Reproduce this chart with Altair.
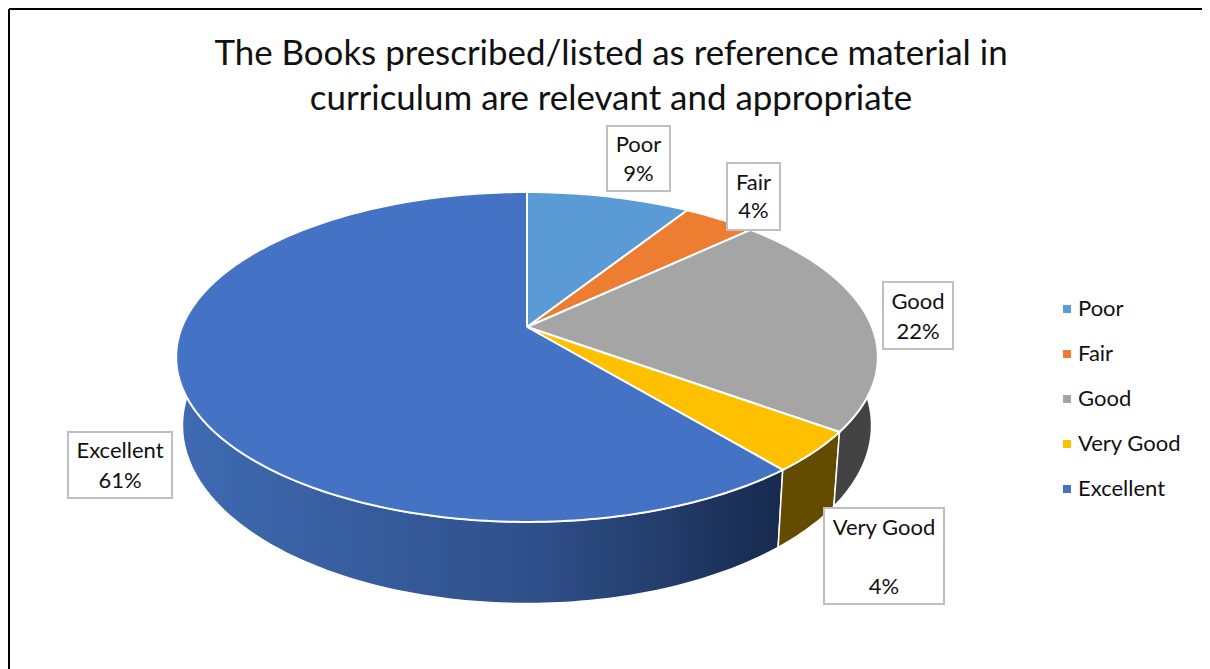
import numpy as np
import pandas as pd
import altair as alt

# ---- chart values ----
categories = ["Poor", "Fair", "Good", "Very Good", "Excellent"]
shares = [9, 4, 22, 4, 61]
title_lines = ["The Books prescribed/listed as reference material in",
               "curriculum are relevant and appropriate"]
colors = ["#5B9BD5", "#ED7D31", "#A5A5A5", "#FFC000", "#4472C4"]

# ---- layout of the callout boxes: x0, x1, y0, y1, x-centre, name line, value line ----
box_x0 = [607, 727, 883, 824, 68]
box_x1 = [670, 780, 953, 944, 172]
box_y0 = [126, 163, 282, 508, 432]
box_y1 = [191, 230, 349, 604, 498]
name_y = [145, 183, 302, 528, 451]
value_y = [174, 211, 332, 587, 481]

# ---- perspective of the tilted disc ----
CX, APEX_Y, K, A, B = 527.0, 327.0, 0.1818, 159.5, 345.0
LOW_X, LOW_Y, LOW_APEX = 0.982, 1.08, 393.0


def rim(theta_deg, lower=False):
    t = np.radians(theta_deg)
    u, v = np.sin(t), np.cos(t)
    w = 1 + K * v
    x, y = B * u / w, -A * v / w
    if lower:
        return CX + LOW_X * x, LOW_APEX + LOW_Y * y
    return CX + x, APEX_Y + y


edges = np.concatenate([[0], np.cumsum(shares)]) * 3.6

faces = []
for name, a0, a1 in zip(categories, edges[:-1], edges[1:]):
    ts = np.linspace(a0, a1, max(int(a1 - a0), 2) + 1)
    xs, ys = rim(ts)
    xs = np.concatenate([[CX], xs, [CX]])
    ys = np.concatenate([[APEX_Y], ys, [APEX_Y]])
    faces.append(pd.DataFrame({"cat": name, "x": xs, "y": ys, "i": np.arange(len(xs))}))
faces = pd.concat(faces)


def wall(a0, a1):
    ts = np.linspace(a0, a1, max(int(a1 - a0), 2) + 1)
    x0, y0 = rim(ts)
    x1, y1 = rim(ts[::-1], lower=True)
    xs = np.concatenate([x0, x1, x0[:1]])
    ys = np.concatenate([y0, y1, y0[:1]])
    return pd.DataFrame({"x": xs, "y": ys, "i": np.arange(len(xs))})


labels = pd.DataFrame({
    "cat": categories, "pct": [f"{s}%" for s in shares],
    "x0": box_x0, "x1": box_x1, "y0": box_y0, "y1": box_y1,
    "ny": name_y, "vy": value_y,
})
labels["xc"] = (labels.x0 + labels.x1) / 2

FONT = "Lato"
xs_scale = alt.Scale(domain=[8, 1202], nice=False, zero=False)
ys_scale = alt.Scale(domain=[669, 8], nice=False, zero=False)
X = alt.X("x:Q", scale=xs_scale, axis=None)
Y = alt.Y("y:Q", scale=ys_scale, axis=None)


def wall_layer(df, fill):
    return alt.Chart(df).mark_line(fill=fill, stroke="white", strokeWidth=1.5, interpolate="linear").encode(
        x=X, y=Y, order=alt.Order("i:Q"))


e = edges
blue_wall = alt.Gradient(gradient="linear", x1=0, x2=1, y1=0, y2=0, stops=[
    alt.GradientStop(color="#3F6BB3", offset=0),
    alt.GradientStop(color="#2F4F89", offset=0.6),
    alt.GradientStop(color="#172A4E", offset=1),
])
walls = [
    wall_layer(wall(e[4], 270), blue_wall),
    wall_layer(wall(e[3], e[4]), "#634C00"),
    wall_layer(wall(90, e[3]), "#434343"),
]

top = alt.Chart(faces).mark_line(stroke="white", strokeWidth=2, interpolate="linear").encode(
    x=X, y=Y, order=alt.Order("i:Q"),
    fill=alt.Fill("cat:N", scale=alt.Scale(domain=categories, range=colors),
                  legend=alt.Legend(orient="none", legendX=1048, legendY=290, title=None,
                                    symbolType="square", symbolSize=64, symbolStrokeWidth=0,
                                    labelFont=FONT, labelFontSize=22, labelColor="#111111",
                                    labelOffset=0, rowPadding=23, labelLimit=200, padding=0)),
)

boxes = alt.Chart(labels).mark_rect(fill="white", stroke="#BFBFBF", strokeWidth=2).encode(
    x=alt.X("x0:Q", scale=xs_scale, axis=None), x2="x1:Q",
    y=alt.Y("y0:Q", scale=ys_scale, axis=None), y2="y1:Q")
names = alt.Chart(labels).mark_text(font=FONT, fontSize=22, color="#111111", baseline="middle").encode(
    x=alt.X("xc:Q", scale=xs_scale, axis=None), y=alt.Y("ny:Q", scale=ys_scale, axis=None), text="cat:N")
values = alt.Chart(labels).mark_text(font=FONT, fontSize=22, color="#111111", baseline="middle").encode(
    x=alt.X("xc:Q", scale=xs_scale, axis=None), y=alt.Y("vy:Q", scale=ys_scale, axis=None), text="pct:N")

frame_top = alt.Chart(pd.DataFrame({"x": [9], "x2": [1202], "y": [9]})).mark_rule(color="black", strokeWidth=2).encode(
    x=X, x2="x2:Q", y=Y)
frame_left = alt.Chart(pd.DataFrame({"x": [9], "y": [9], "y2": [669]})).mark_rule(color="black", strokeWidth=2).encode(
    x=X, y=Y, y2="y2:Q")

chart = alt.layer(frame_top, frame_left, *walls, top, boxes, names, values).properties(
    width=1194, height=661, padding=0, autosize=alt.AutoSizeParams(type="none"),
    background="white",
    title=alt.TitleParams(text=title_lines, font=FONT, fontSize=34.9, fontWeight="normal", color="#111111",
                          anchor="middle", lineHeight=45, frame="group", baseline="alphabetic",
                          offset=0, dy=137, dx=6),
).configure_view(stroke=None)

chart.save("out.html", embed_options={"renderer": "svg", "actions": False})
